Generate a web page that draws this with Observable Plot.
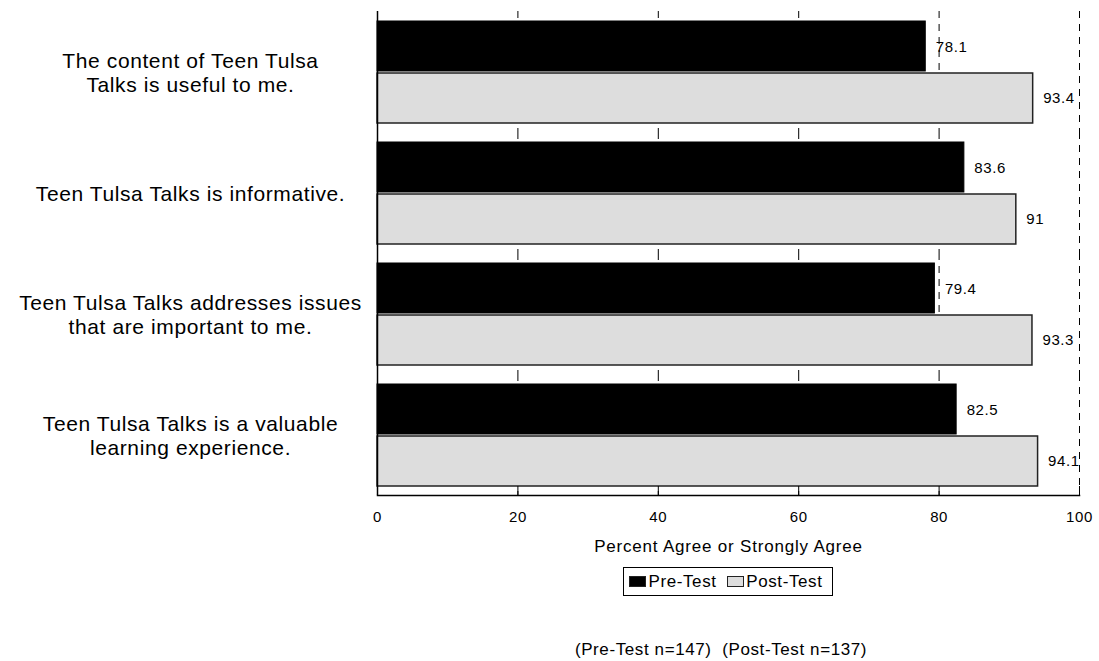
<!DOCTYPE html>
<html>
<head>
<meta charset="utf-8">
<script src="https://cdn.jsdelivr.net/npm/d3@7"></script>
<script src="https://cdn.jsdelivr.net/npm/@observablehq/plot@0.6"></script>
<style>
  body { margin: 0; background: #fff; font-family: "Liberation Sans", Arial, sans-serif; color: #000; }
  #chart svg { letter-spacing: 0.6px; }
  #chart svg g[font-size="21"] { letter-spacing: 0.6px; }
  #chart svg g[font-size="17"] { letter-spacing: 0.8px; }
  .below { padding-left: 377px; padding-right: 20px; text-align: center; }
  #legend { display: inline-block; margin-top: 7px; border: 1px solid #000; height: 29px; box-sizing: border-box;
            padding: 0 9px 0 5px; font-size: 17px; letter-spacing: 0.6px; line-height: 27px; }
  .sw { display: inline-block; width: 15px; height: 9px; border: 1.5px solid #222; vertical-align: middle; margin-right: 2px; position: relative; top: -1px; }
  #note { margin-top: 44px; font-size: 17px; letter-spacing: 0.6px; line-height: 20px; padding-right: 14px; }
</style>
</head>
<body>
<div id="chart"></div>
<div class="below"><div id="legend"></div></div>
<div class="below"><div id="note"></div></div>
<script>
const questions = [
  "The content of Teen Tulsa\nTalks is useful to me.",
  "Teen Tulsa Talks is informative.",
  "Teen Tulsa Talks addresses issues\nthat are important to me.",
  "Teen Tulsa Talks is a valuable\nlearning experience."
];
const series = ["Pre-Test", "Post-Test"];
const preTest = [78.1, 83.6, 79.4, 82.5];
const postTest = [93.4, 91, 93.3, 94.1];
const xTicks = [0, 20, 40, 60, 80, 100];
const xLabel = "Percent Agree or Strongly Agree";
const sampleNote = "(Pre-Test n=147)\u00a0\u00a0(Post-Test n=137)";
const seriesColors = ["#000000", "#dddddd"];

const data = questions.flatMap((q, i) => [
  {question: q, series: series[0], value: preTest[i]},
  {question: q, series: series[1], value: postTest[i]}
]);

const chart = Plot.plot({
  width: 1099,
  height: 560,
  marginLeft: 377,
  marginRight: 20,
  marginTop: 9,
  marginBottom: 64,
  style: {fontFamily: "'Liberation Sans', Arial, sans-serif", fontSize: "15px", color: "#000", background: "#fff"},
  fy: {domain: questions, paddingInner: 0, paddingOuter: 0, axis: null, label: null},
  y: {domain: series, paddingInner: 0, paddingOuter: 0.17, axis: null, label: null},
  x: {domain: [0, 100], label: null},
  color: {domain: series, range: seriesColors},
  marks: [
    Plot.gridX(xTicks, {stroke: "#000", strokeOpacity: 1, strokeDasharray: "7,6"}),
    Plot.barX(data.filter(d => d.series === series[0]), {
      fy: "question", y: "series", x: "value", fill: "series", stroke: "#000", strokeWidth: 1, insetBottom: 1
    }),
    Plot.barX(data.filter(d => d.series === series[1]), {
      fy: "question", y: "series", x: "value", fill: "series", stroke: "#222", strokeWidth: 1.5, insetTop: 1
    }),
    Plot.text(data, {
      fy: "question", y: "series", x: "value", text: d => String(d.value),
      dx: 10, textAnchor: "start", fontSize: 15, fill: "#000"
    }),
    Plot.text(questions, {
      fy: d => d, text: d => d, frameAnchor: "left", dx: -187, textAnchor: "middle",
      fontSize: 21, lineHeight: 1.19, fill: "#000"
    }),
    Plot.ruleX([0], {stroke: "#000", strokeWidth: 1.5}),
    Plot.frame({anchor: "bottom", facetAnchor: "bottom", stroke: "#000", strokeWidth: 1.5}),
    Plot.axisX(xTicks, {tickSize: -9, tickFormat: () => "", label: null, stroke: "#000"}),
    Plot.axisX(xTicks, {tickSize: 0, tickPadding: 16, label: null, fontSize: 15, fill: "#000"}),
    Plot.text([xLabel], {facetAnchor: "bottom", frameAnchor: "bottom", dy: 51, lineAnchor: "middle", fontSize: 17, fill: "#000"})
  ]
});
document.getElementById("chart").appendChild(chart);

const legend = document.getElementById("legend");
series.forEach((s, i) => {
  const sw = document.createElement("span");
  sw.className = "sw";
  sw.style.background = seriesColors[i];
  if (i > 0) legend.appendChild(document.createTextNode("\u00a0\u00a0"));
  legend.appendChild(sw);
  legend.appendChild(document.createTextNode(s));
});
document.getElementById("note").textContent = sampleNote;
</script>
</body>
</html>
